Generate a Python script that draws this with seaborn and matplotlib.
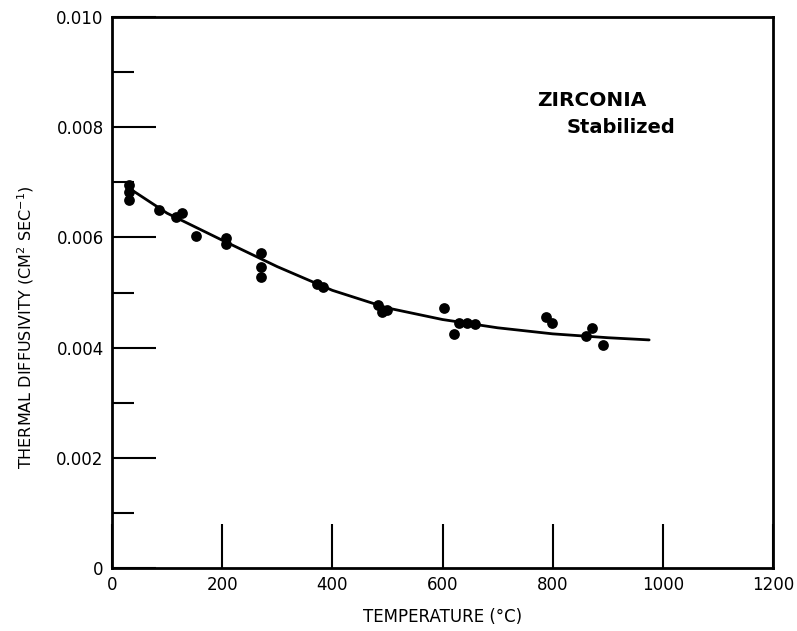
"""Thermal diffusivity of stabilized zirconia versus temperature."""

import matplotlib
matplotlib.use("Agg")
import matplotlib.pyplot as plt
import pandas as pd
import seaborn as sns
from matplotlib.ticker import MultipleLocator

temp_c = [30, 30, 30, 85, 116, 127, 152, 207, 207, 270, 270, 270,
          372, 383, 483, 490, 500, 603, 620, 630, 645, 659,
          788, 799, 860, 871, 891]
diffusivity = [0.00695, 0.00682, 0.00668, 0.00650, 0.00637, 0.00644, 0.00603,
               0.00599, 0.00588, 0.00572, 0.00546, 0.00528,
               0.00515, 0.00510, 0.00477, 0.00465, 0.00468, 0.00472, 0.00425,
               0.00445, 0.00445, 0.00443, 0.00456, 0.00445, 0.00421, 0.00436,
               0.00405]

# Smooth curve drawn through the data
curve_temp = [30, 100, 200, 300, 400, 500, 600, 700, 800, 900, 975]
curve_diff = [0.00690, 0.00644, 0.00595, 0.00547, 0.00504, 0.00472,
              0.00451, 0.00436, 0.00425, 0.00418, 0.00414]

points = pd.DataFrame({"T": temp_c, "D": diffusivity})
curve = pd.DataFrame({"T": curve_temp, "D": curve_diff})

sns.set_theme(style="white")
plt.rcParams["font.family"] = ["DejaVu Sans"]
plt.rcParams["text.color"] = "black"
plt.rcParams["axes.labelcolor"] = "black"
plt.rcParams["xtick.color"] = "black"
plt.rcParams["ytick.color"] = "black"

fig = plt.figure(figsize=(7.97, 6.31), dpi=100)
ax = fig.add_axes([0.1405, 0.0998, 0.8295, 0.8732])

sns.lineplot(data=curve, x="T", y="D", color="black", linewidth=2.0, ax=ax)
sns.scatterplot(data=points, x="T", y="D", color="black", s=60,
                edgecolor="black", linewidth=0, zorder=3, ax=ax)

ax.set_xlim(0, 1200)
ax.set_ylim(0, 0.010)
ax.set_xticks([0, 200, 400, 600, 800, 1000, 1200])
ax.yaxis.set_minor_locator(MultipleLocator(0.001))
ax.set_yticks([0, 0.002, 0.004, 0.006, 0.008, 0.010])
ax.set_yticklabels(["0", "0.002", "0.004", "0.006", "0.008", "0.010"])

ax.tick_params(axis="both", which="major", direction="in", length=32,
               width=1.5, labelsize=12, pad=6, bottom=True, left=True,
               top=False, right=False)
ax.tick_params(axis="y", which="minor", direction="in", length=16,
               width=1.5, left=True, right=False)

for spine in ax.spines.values():
    spine.set_visible(True)
    spine.set_color("black")
    spine.set_linewidth(2.0)

ax.set_xlabel("TEMPERATURE (°C)", fontsize=12, labelpad=10)
ax.set_ylabel("THERMAL DIFFUSIVITY (CM$^2$ SEC$^{-1}$)", fontsize=11.5)
ax.yaxis.set_label_coords(-0.115, 0.437)

ax.text(771, 0.00849, "ZIRCONIA", fontsize=14.5, fontweight="bold",
        va="center", ha="left")
ax.text(826, 0.00799, "Stabilized", fontsize=14, fontweight="bold",
        va="center", ha="left")

fig.savefig("out.png", dpi=100)
plt.close(fig)
